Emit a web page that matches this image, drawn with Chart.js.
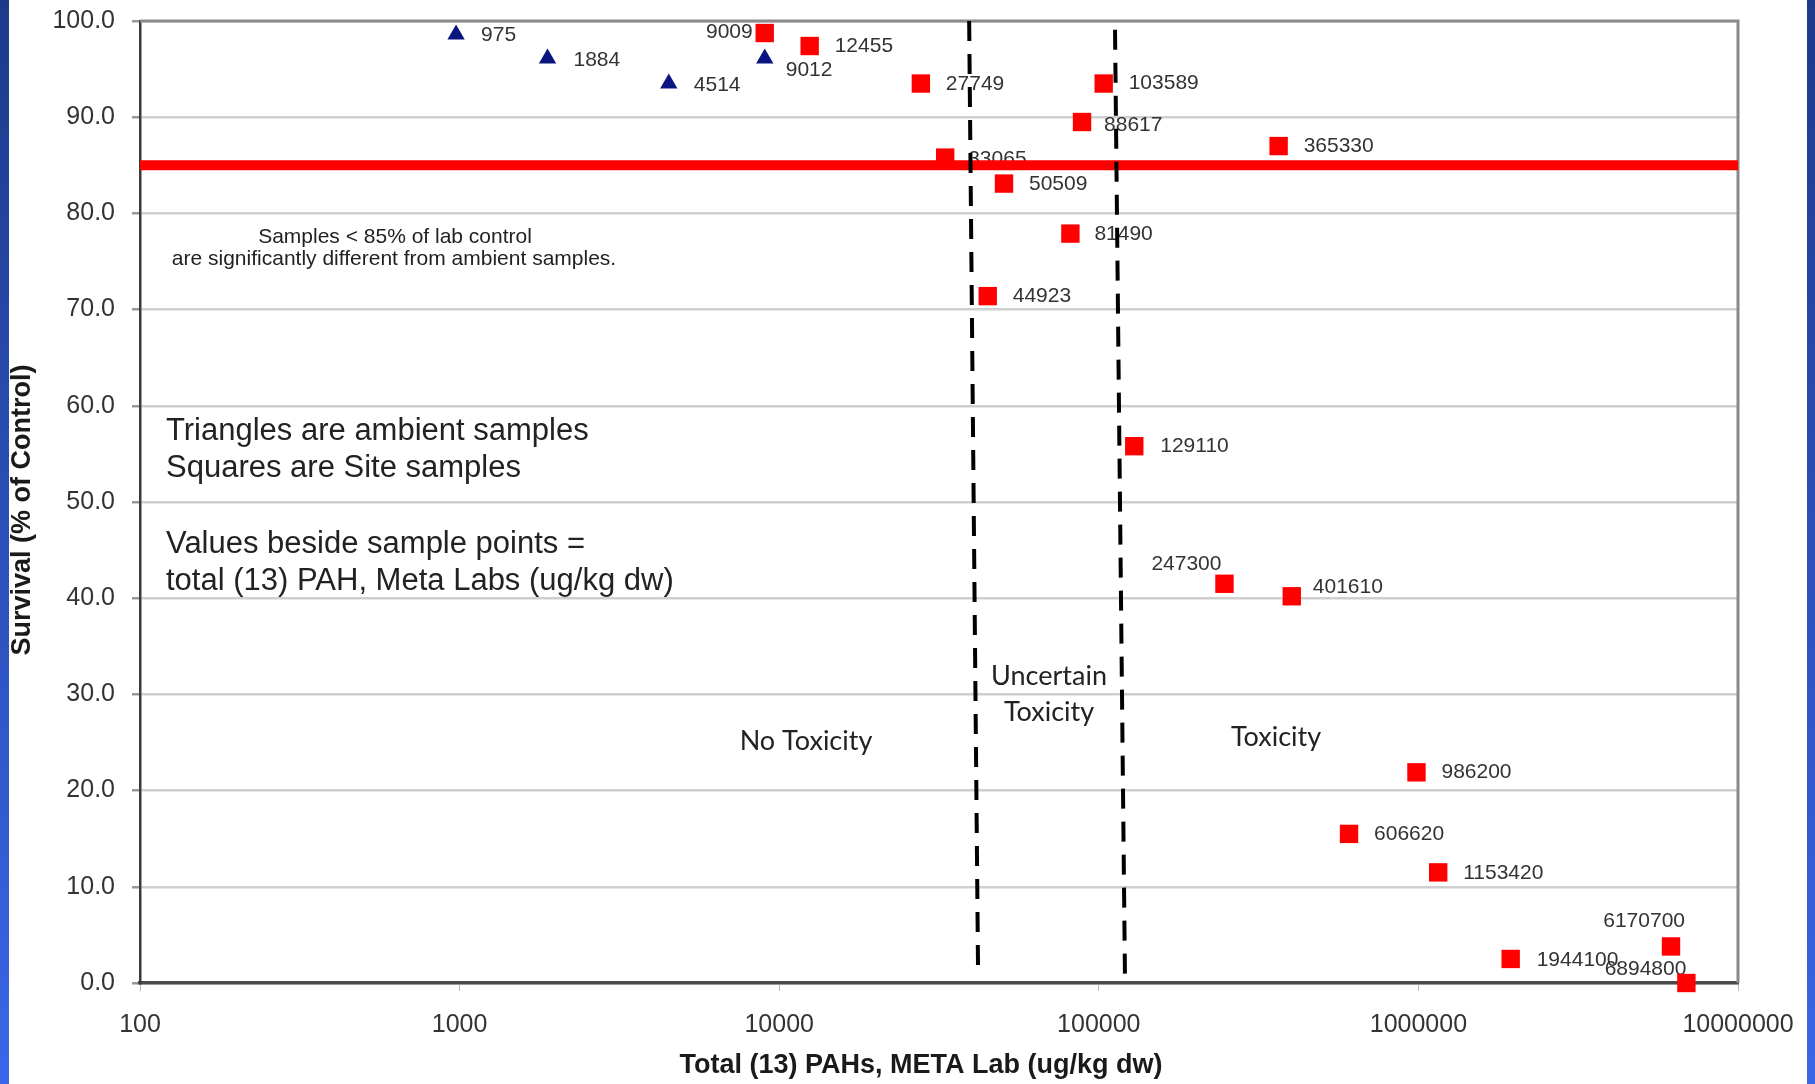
<!DOCTYPE html>
<html>
<head>
<meta charset="utf-8">
<title>Survival vs Total PAHs</title>
<script src="https://cdn.jsdelivr.net/npm/chart.js@4.4.1/dist/chart.umd.min.js"></script>
<style>
  html, body { margin: 0; padding: 0; background: #fff; overflow: hidden; }
  #wrap { position: relative; width: 1815px; height: 1084px; }
  .strip { position: absolute; top: 0; height: 1084px; background: linear-gradient(#1d3a8a, #3a66e8); }
  #stripL { left: 0; width: 9px; }
  #stripR { left: 1807px; width: 8px; }
</style>
</head>
<body>
<div id="wrap">
  <canvas id="grafico" width="1815" height="1084"></canvas>
  <div class="strip" id="stripL"></div>
  <div class="strip" id="stripR"></div>
</div>
<script>
// ambient samples (triangles)
var ambientPah = [975, 1884, 4514, 9012];
var ambientSurvival = [98.6, 96.1, 93.5, 96.1];

// site samples (squares)
var sitePah = [9009, 12455, 27749, 103589, 88617, 365330, 33065, 50509, 81490, 44923,
               129110, 247300, 401610, 986200, 606620, 1153420, 6170700, 1944100, 6894800];
var siteSurvival = [98.75, 97.4, 93.5, 93.5, 89.5, 87.0, 85.8, 83.1, 77.9, 71.4,
                    55.8, 41.5, 40.2, 21.9, 15.5, 11.5, 3.8, 2.5, 0.0];

// 85% of lab control line and the two dashed toxicity limits
var thresholdSurvival = 85;
var lowLimitPah = [39300, 41900];
var lowLimitSurvival = [100, 1.2];
var highLimitPah = [112400, 120800];
var highLimitSurvival = [99.1, 0];

var xTicks = [100, 1000, 10000, 100000, 1000000, 10000000];
var yTicks = [0, 10, 20, 30, 40, 50, 60, 70, 80, 90, 100];

// where each value label sits next to its point: [dx, dy, align]
var ambientLabelPos = [[25, 1, 'left'], [26, 2, 'left'], [25, 2, 'left'], [21, 12, 'left']];
var siteLabelPos = [
  [-12, -1, 'right'], [25, 0, 'left'], [25, 1, 'left'], [25, 0, 'left'], [22, 3, 'left'],
  [25, 0, 'left'], [23, 2, 'left'], [25, 1, 'left'], [24, 1, 'left'], [25, 0, 'left'],
  [26, 0, 'left'], [-3, -20, 'right'], [21, -9, 'left'], [25, 0, 'left'], [25, 0, 'left'],
  [25, 1, 'left'], [14, -25, 'right'], [26, 1, 'left'], [0, -14, 'right']
];

var ARIAL = '"Liberation Sans", Arial, sans-serif';
var CALIBRI = 'Lato, "Open Sans", sans-serif';

function puntos(xs, ys) {
  return xs.map(function(x, i){ return {x: x, y: ys[i]}; });
}

function pintarEtiquetas(ctx, meta, valores, pos) {
  meta.data.forEach(function(p, i){
    ctx.textAlign = pos[i][2];
    ctx.fillText(String(valores[i]), p.x + pos[i][0], p.y + pos[i][1]);
  });
}

var etiquetas = {
  id: 'etiquetas',
  beforeDatasetsDraw: function(chart) {
    var ctx = chart.ctx;
    var a = chart.chartArea;
    ctx.save();

    // top and right frame of the plot
    ctx.strokeStyle = '#8a8a8a';
    ctx.lineWidth = 3;
    ctx.beginPath();
    ctx.moveTo(a.left, a.top);
    ctx.lineTo(a.right, a.top);
    ctx.lineTo(a.right, a.bottom);
    ctx.stroke();

    ctx.fillStyle = '#333';
    ctx.textBaseline = 'middle';
    ctx.font = '21px ' + ARIAL;
    pintarEtiquetas(ctx, chart.getDatasetMeta(4), ambientPah, ambientLabelPos);
    pintarEtiquetas(ctx, chart.getDatasetMeta(3), sitePah, siteLabelPos);

    ctx.fillStyle = '#222';
    ctx.textAlign = 'center';
    ctx.fillText('Samples < 85% of lab control', 395, 237);
    ctx.fillText('are significantly different from ambient samples.', 394, 259);

    ctx.textAlign = 'left';
    ctx.textBaseline = 'alphabetic';
    ctx.font = '31px ' + ARIAL;
    ctx.fillText('Triangles are ambient samples', 166, 440);
    ctx.fillText('Squares are Site samples', 166, 477);
    ctx.fillText('Values beside sample points =', 166, 553);
    ctx.fillText('total (13) PAH, Meta Labs (ug/kg dw)', 166, 590);

    ctx.textAlign = 'center';
    ctx.textBaseline = 'middle';
    ctx.font = '27px ' + CALIBRI;
    ctx.fillText('No Toxicity', 806, 741);
    ctx.fillText('Uncertain', 1049, 676);
    ctx.fillText('Toxicity', 1049, 712);
    ctx.fillText('Toxicity', 1276, 737);
    ctx.restore();
  },
  afterDraw: function(chart) {
    var ctx = chart.ctx;
    ctx.save();
    ctx.fillStyle = '#1a1a1a';
    ctx.font = 'bold 27px ' + ARIAL;
    ctx.textAlign = 'center';
    ctx.textBaseline = 'middle';
    ctx.fillText('Total (13) PAHs, META Lab (ug/kg dw)', 921, 1066);
    ctx.translate(23, 510);
    ctx.rotate(-Math.PI / 2);
    ctx.fillText('Survival (% of Control)', 0, 0);
    ctx.restore();
  }
};

function setGrafico() {
  var ctx = document.getElementById('grafico').getContext('2d');
  new Chart(ctx, {
    type: 'scatter',
    data: {
      datasets: [
        {
          label: 'limit low',
          data: puntos(lowLimitPah, lowLimitSurvival),
          showLine: true, pointRadius: 0,
          borderColor: '#000', borderWidth: 4, borderDash: [20, 13]
        },
        {
          label: 'limit high',
          data: puntos(highLimitPah, highLimitSurvival),
          showLine: true, pointRadius: 0,
          borderColor: '#000', borderWidth: 4, borderDash: [20, 13]
        },
        {
          label: '85%',
          data: puntos([xTicks[0], xTicks[xTicks.length - 1]], [thresholdSurvival, thresholdSurvival]),
          showLine: true, pointRadius: 0,
          borderColor: '#ff0000', borderWidth: 10
        },
        {
          label: 'Site samples',
          data: puntos(sitePah, siteSurvival),
          pointStyle: 'rect', pointRadius: 13,
          backgroundColor: '#ff0000', borderColor: '#ff0000', borderWidth: 0
        },
        {
          label: 'Ambient samples',
          data: puntos(ambientPah, ambientSurvival),
          pointStyle: 'triangle', pointRadius: 10,
          backgroundColor: '#0a1580', borderColor: '#0a1580', borderWidth: 0
        }
      ]
    },
    options: {
      responsive: false,
      devicePixelRatio: 1,
      animation: false,
      events: [],
      clip: false,
      layout: { padding: { top: 21, right: 77, bottom: 0, left: 0 } },
      plugins: { legend: { display: false }, tooltip: { enabled: false } },
      scales: {
        x: {
          type: 'logarithmic',
          min: xTicks[0],
          max: xTicks[xTicks.length - 1],
          afterBuildTicks: function(scale) {
            scale.ticks = xTicks.map(function(v){ return {value: v}; });
          },
          afterFit: function(scale) { scale.height = 101; },
          ticks: {
            autoSkip: false, maxRotation: 0, minRotation: 0, padding: 19,
            color: '#333', font: { family: ARIAL, size: 25 },
            callback: function(v) { return String(v); }
          },
          grid: { drawOnChartArea: false, drawTicks: true, tickLength: 8, tickColor: '#bbb' },
          border: { color: '#4a4a4a', width: 3.5 }
        },
        y: {
          min: 0,
          max: 100,
          afterBuildTicks: function(scale) {
            scale.ticks = yTicks.map(function(v){ return {value: v}; });
          },
          afterFit: function(scale) {
            scale.width = 140;
            scale.paddingTop = 0;
            scale.paddingBottom = 0;
          },
          ticks: {
            padding: 17, color: '#333', font: { family: ARIAL, size: 25 },
            callback: function(v) { return Number(v).toFixed(1); }
          },
          grid: { color: '#cfcfcf', lineWidth: 2.5, tickLength: 8, tickColor: '#999' },
          border: { color: '#3a3a3a', width: 2.5 }
        }
      }
    },
    plugins: [etiquetas]
  });
}

setGrafico();
</script>
</body>
</html>
